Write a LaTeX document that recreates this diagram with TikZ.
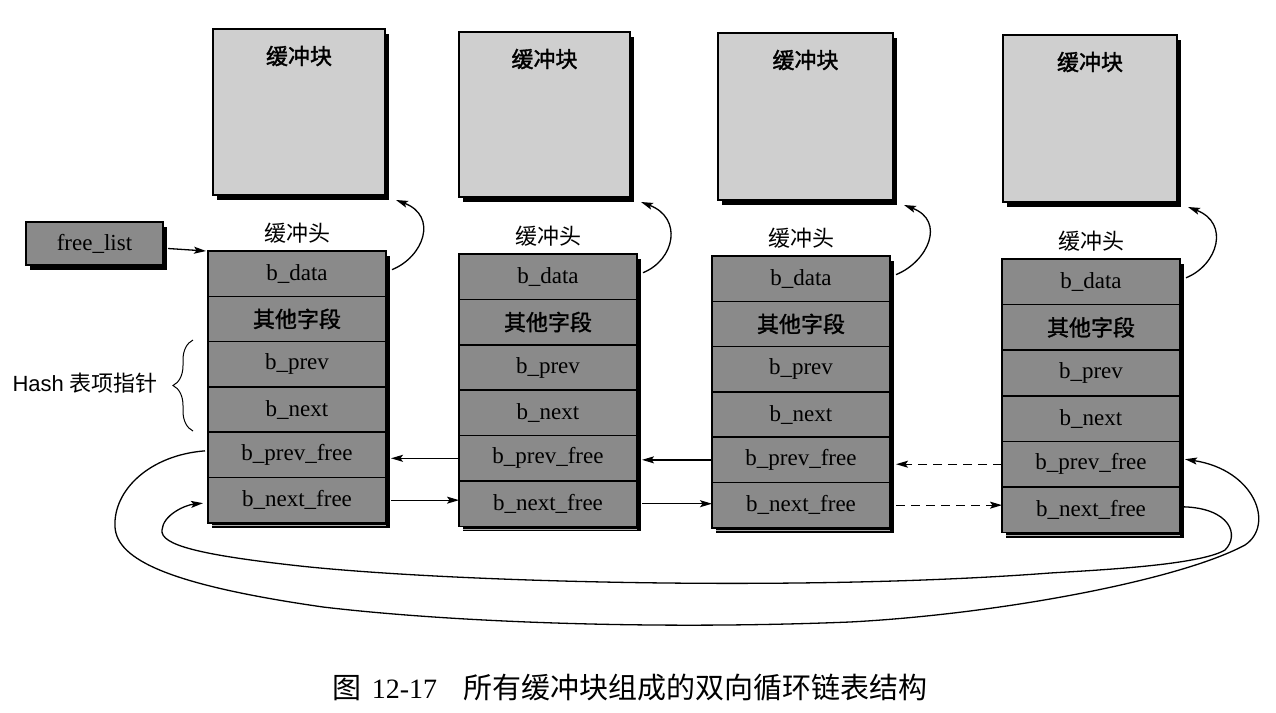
\documentclass[tikz,border=0pt]{standalone}
\usepackage{fontspec}
\setmainfont{Liberation Serif}
\newfontfamily\cjk{Noto Sans CJK SC}
\newfontfamily\cjkb[FakeBold=1.5]{Noto Sans CJK SC}
\newfontfamily\lsans{Liberation Sans}
\usetikzlibrary{calc,shadows,arrows.meta,decorations.pathreplacing}
\definecolor{hdr}{gray}{0.54}
\definecolor{blkc}{gray}{0.81}
\begin{document}
\begin{tikzpicture}[x=1pt,y=-1pt,
  shd/.style={drop shadow={shadow xshift=4pt,shadow yshift=-5pt,fill=black,opacity=1}},
  hrow/.style={draw=black, line width=1.6pt, fill=hdr, minimum width=178pt,
    inner sep=0pt, outer sep=0pt, anchor=north west,
    font=\fontsize{23}{23}\selectfont, shd},
  blkbox/.style={draw=black, line width=1.6pt, fill=blkc, inner sep=0pt,
    outer sep=0pt, anchor=north west, shd},
  blklab/.style={font=\cjkb\fontsize{22}{22}\selectfont},
  hlab/.style={font=\cjk\fontsize{22}{22}\selectfont},
  conn/.style={line width=1.3pt, -{Stealth[length=12pt,width=7pt,inset=2.5pt]}},
  dconn/.style={conn, dash pattern=on 9pt off 6pt}]
\useasboundingbox (0,0) rectangle (1276,712);

% buffer blocks
\node[blkbox, minimum width=172pt, minimum height=166pt] (b1) at (213,29) {};
\node[blkbox, minimum width=171pt, minimum height=165pt] (b2) at (459,32) {};
\node[blkbox, minimum width=175pt, minimum height=167pt] (b3) at (718,33) {};
\node[blkbox, minimum width=174pt, minimum height=167pt] (b4) at (1003,35) {};
\foreach \i in {1,...,4}{
  \node[blklab] (bl\i) at ($(b\i.north)+(0,27)$) {缓冲块};
}

% buffer heads
\foreach \i/\x/\t/\rh in {1/208/251/45.3pt, 2/459/254/45.4pt, 3/712/256/45.3pt, 4/1002/259/45.6pt}{
  \node[hrow, minimum height=\rh] (h\i-1) at (\x,\t) {b\_data};
  \node[hrow, minimum height=\rh] (h\i-2) at (h\i-1.south west) {\cjkb\fontsize{22}{22}\selectfont 其他字段};
  \node[hrow, minimum height=\rh] (h\i-3) at (h\i-2.south west) {b\_prev};
  \node[hrow, minimum height=\rh] (h\i-4) at (h\i-3.south west) {b\_next};
  \node[hrow, minimum height=\rh] (h\i-5) at (h\i-4.south west) {b\_prev\_free};
  \node[hrow, minimum height=\rh] (h\i-6) at (h\i-5.south west) {b\_next\_free};
  \draw[gray!60, line width=0.8pt] ($(h\i-6.south west)+(4,2.6)$) -- ($(h\i-6.south east)+(0,2.6)$);
  \node[hlab] (hl\i) at ($(h\i-1.north)+(0,-18)$) {缓冲头};
  \draw[conn] ($(h\i-1.east)+(6,-4)$) .. controls +(32,-13) and +(42,16) .. ($(b\i.south east)+(11,5)$);
}

% free_list
\node[hrow, minimum width=137pt, minimum height=43pt] (fl) at (26,222) {free\_list};
\draw[conn] ($(fl.east)+(5,5)$) -- ($(h1-1.north west)+(-2,0)$);

% Hash brace
\draw[line width=1pt, decorate, decoration={brace, amplitude=20pt}] (193,431) -- (193,340);
\node[font=\fontsize{22}{22}\selectfont] (hash) at (85,383) {{\lsans Hash} {\cjk 表项指针}};

% horizontal links
\draw[conn] (h2-5.west) -- ($(h2-5.west -| h1-5.east)+(5,0)$);
\draw[conn] ($(h1-6.east)+(5,0)$) -- (h1-6.east -| h2-6.west);
\draw[conn] (h3-5.west) -- ($(h3-5.west -| h2-5.east)+(5,0)$);
\draw[conn] ($(h2-6.east)+(5,0)$) -- (h2-6.east -| h3-6.west);
\draw[dconn] (h4-5.west) -- ($(h4-5.west -| h3-5.east)+(6,0)$);
\draw[dconn] ($(h3-6.east)+(6,0)$) -- (h3-6.east -| h4-6.west);

% circular loops
\draw[conn] ($(h1-5.west)+(-3,-4)$) .. controls (150,455) and (113,490) .. (115,527)
  .. controls (117,560) and (170,585) .. (323,607)
  .. controls (450,622) and (650,630) .. (850,622)
  .. controls (1000,614) and (1180,580) .. (1245,545)
  .. controls (1275,525) and (1255,470) .. ($(h4-5.east)+(5,-5)$);
\draw[conn] ($(h4-6.east)+(3,-3)$) .. controls (1230,508) and (1240,535) .. (1225,550)
  .. controls (1200,565) and (1100,570) .. (1050,573)
  .. controls (800,592) and (450,582) .. (300,566)
  .. controls (200,555) and (160,545) .. (162,530)
  .. controls (163,515) and (185,505) .. ($(h1-6.west)+(-5,3)$);

% caption
\node[font=\cjk\fontsize{29}{29}\selectfont] (cap) at (630,688)
  {图\hspace{10pt}{\rmfamily\fontsize{28}{28}\selectfont 12-17}\hspace{26pt}所有缓冲块组成的双向循环链表结构};
\end{tikzpicture}
\end{document}
